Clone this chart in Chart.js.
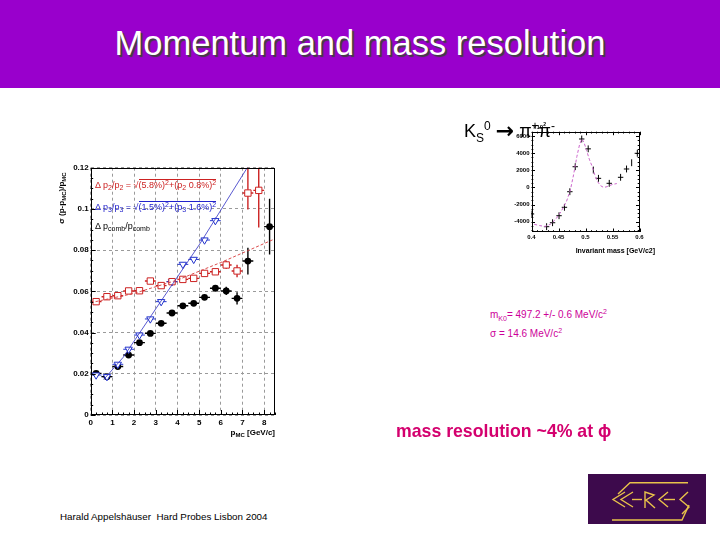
<!DOCTYPE html>
<html><head><meta charset="utf-8">
<script src="https://cdn.jsdelivr.net/npm/chart.js"></script>
<style>
body{margin:0;width:720px;height:540px;position:relative;background:#fff;font-family:"Liberation Sans",Arial,sans-serif;overflow:hidden}
.abs{position:absolute}
#hdr{left:0;top:0;width:720px;height:88px;background:#9900cc}
#title{left:0;top:24px;width:720px;text-align:center;color:#fff;font-size:34.5px;text-shadow:2px 2px 1px #404040}
.leg{font-size:9px;white-space:nowrap;line-height:11px}
.leg sub,.leg sup{font-size:7px}
.leg sub{vertical-align:-2px}
.leg sup{vertical-align:3px}
.rt{border-top:1px solid currentColor;padding-top:0px}
#ytitle{left:62px;top:198px;font-size:8px;font-weight:bold;white-space:nowrap;transform:translate(-50%,-50%) rotate(-90deg)}
#ytitle sub{font-size:6px;vertical-align:-2px}
#xtitle{right:445px;top:428px;font-size:8px;font-weight:bold;white-space:nowrap}
#xtitle sub{font-size:6px;vertical-align:-2px}
#kdecay{left:464px;top:118px;font-size:18px;white-space:nowrap}
#kdecay sub,#kdecay sup{font-size:12px}
#kdecay .arr{font-size:22px;font-weight:bold;font-family:"DejaVu Sans",sans-serif;vertical-align:-1px}
#mtitle{right:65px;top:247px;font-size:7px;font-weight:bold;white-space:nowrap}
#unit{left:533px;top:121px;font-size:6px;font-weight:bold}
#mres{left:490px;top:306px;font-size:10px;color:#cc0099;line-height:12px;white-space:nowrap}
#mres sub,#mres sup{font-size:7px}
#massres{left:396px;top:421px;font-size:17.7px;font-weight:bold;color:#d4006e;white-space:nowrap}
#footer{left:60px;top:511px;font-size:9.8px;white-space:nowrap}
</style></head>
<body>
<div id="hdr" class="abs"></div>
<div id="title" class="abs">Momentum and mass resolution</div>

<canvas id="c1" class="abs" width="245" height="290" style="left:40px;top:155px"></canvas>
<canvas id="c2" class="abs" width="165" height="145" style="left:500px;top:115px"></canvas>

<div class="abs leg" style="left:95px;top:177px;color:#cc2222">&Delta; p<sub>2</sub>/p<sub>2</sub> = &radic;<span class="rt">(5.8%)<sup>2</sup>+(p<sub>2</sub> 0.8%)<sup>2</sup></span></div>
<div class="abs leg" style="left:95px;top:199px;color:#2222cc">&Delta; p<sub>3</sub>/p<sub>3</sub> = &radic;<span class="rt">(1.5%)<sup>2</sup>+(p<sub>3</sub> 1.6%)<sup>2</sup></span></div>
<div class="abs leg" style="left:95px;top:221px;color:#000">&Delta; p<sub>comb</sub>/p<sub>comb</sub></div>
<div id="ytitle" class="abs">&sigma; (p-p<sub>MC</sub>)/p<sub>MC</sub></div>
<div id="xtitle" class="abs">p<sub>MC</sub> [GeV/c]</div>

<div id="kdecay" class="abs">K<sub>S</sub><sup>0</sup> <span class="arr">&rarr;</span> &pi;<sup>+</sup>&pi;<sup>-</sup></div>
<div id="unit" class="abs">&times;10<sup>2</sup></div>
<div id="mtitle" class="abs">Invariant mass [GeV/c2]</div>
<div id="mres" class="abs">m<sub>K0</sub>= 497.2 +/- 0.6 MeV/c<sup>2</sup><br>&sigma; = 14.6 MeV/c<sup>2</sup></div>
<div id="massres" class="abs">mass resolution ~4% at &#x3D5;</div>
<div id="footer" class="abs">Harald Appelsh&auml;user &nbsp;Hard Probes Lisbon 2004</div>

<svg class="abs" style="left:588px;top:474px" width="118" height="50" viewBox="0 0 118 50">
<rect x="0" y="0" width="118" height="50" fill="#3d0a4c"/>
<g fill="none" stroke="#e8c24a" stroke-width="1.4">
<polyline points="30,20 42,8.7 100,8.7"/>
<polyline points="37,18 25,25.5 37,33"/>
<polyline points="45,18 33,25.5 45,33"/>
<line x1="44" y1="25.5" x2="54" y2="25.5"/>
<polyline points="57,34 57,18 66,21 58,26 67,34"/>
<polyline points="80,18 71,25.5 80,33"/>
<line x1="76" y1="25.5" x2="87" y2="25.5"/>
<polyline points="100,18 92,25.5 101,33 94,40"/>
<polyline points="24,46 94,46 101,31"/>
</g>
</svg>

<script>
// ---- momentum resolution data ----
const momBlack = [0.25,0.75,1.25,1.75,2.25,2.75,3.25,3.75,4.25,4.75,5.25,5.75,6.25,6.75,7.25,8.25];
const resBlack = [0.0202,0.0186,0.0235,0.0291,0.0351,0.0396,0.0445,0.0495,0.0530,0.0542,0.0571,0.0615,0.0602,0.0566,0.0747,0.0914];
const errBlack = [0.0005,0.0005,0.0005,0.0005,0.0005,0.0005,0.0005,0.0005,0.0006,0.0008,0.001,0.0012,0.002,0.003,0.0065,0.0135];
const xErrBlack = [0.25,0.25,0.25,0.25,0.25,0.25,0.25,0.25,0.25,0.25,0.25,0.25,0.25,0.25,0.25,0.25];

const momRed = [0.25,0.75,1.25,1.75,2.25,2.75,3.25,3.75,4.25,4.75,5.25,5.75,6.25,6.75,7.25,7.75];
const resRed = [0.0550,0.0574,0.0579,0.0602,0.0603,0.0650,0.0628,0.0647,0.0658,0.0663,0.0687,0.0695,0.0728,0.0699,0.1077,0.1090];
const errRedLo = [0.001,0.0005,0.0005,0.0005,0.0005,0.0005,0.0005,0.0005,0.0006,0.0008,0.001,0.0012,0.002,0.003,0.008,0.018];
const errRedHi = [0.001,0.0005,0.0005,0.0005,0.0005,0.0005,0.0005,0.0005,0.0006,0.0008,0.001,0.0012,0.002,0.003,0.016,0.018];
const xErrRed = [0.25,0.25,0.25,0.25,0.25,0.25,0.25,0.25,0.25,0.25,0.25,0.25,0.25,0.25,0.25,0.25];

const momBlue = [0.25,0.75,1.25,1.75,2.25,2.75,3.25,3.75,4.25,4.75,5.25,5.75];
const resBlue = [0.0194,0.0186,0.0246,0.0319,0.0388,0.0466,0.0550,0.0647,0.0731,0.0755,0.0849,0.0943];
const errBlue = [0.0005,0.0005,0.0005,0.0005,0.0005,0.0005,0.0005,0.0006,0.0008,0.001,0.0012,0.0015];
const xErrBlue = [0.25,0.25,0.25,0.25,0.25,0.25,0.25,0.25,0.25,0.25,0.25,0.25];

const fitRedX = [0, 2, 4, 6, 8.5];
const fitRedY = [0.0545, 0.0590, 0.0655, 0.0740, 0.0855];
const fitBlueX = [0.6, 1.5, 3, 5, 7.25];
const fitBlueY = [0.0172, 0.0280, 0.0515, 0.0825, 0.1205];

const momTicks = [0, 1, 2, 3, 4, 5, 6, 7, 8];
const resTicks = [0, 0.02, 0.04, 0.06, 0.08, 0.1, 0.12];

// ---- K0s invariant mass data ----
const massX = [0.400,0.428,0.439,0.451,0.461,0.471,0.481,0.493,0.505,0.5145,0.524,0.544,0.565,0.576,0.5855,0.596];
const massY = [-3100,-4580,-4120,-3300,-2320,-500,2415,5650,4500,2030,1060,480,1180,2150,2880,3980];
const massXErr = [0.005,0.005,0.005,0.005,0.005,0.005,0.005,0.005,0.005,0,0.005,0.005,0.005,0.005,0,0.005];
const massYErr = [400,400,400,400,400,400,400,400,400,400,400,400,400,400,400,400];
const fitMassX = [0.405,0.415,0.425,0.435,0.445,0.455,0.465,0.472,0.478,0.484,0.489,0.493,0.497,0.502,0.507,0.512,0.517,0.522,0.528,0.533,0.538,0.544,0.550,0.558];
const fitMassY = [-4300,-4450,-4550,-4300,-3700,-2800,-1600,-300,1500,3600,5000,5650,5300,4300,3300,2500,1500,700,200,20,50,200,350,450];
const massXTicks = [0.4, 0.45, 0.5, 0.55, 0.6];
const massYTicks = [-4000, -2000, 0, 2000, 4000, 6000];

const pts = (xs, ys) => xs.map((x, i) => ({x, y: ys[i]}));
const setTicks = list => s => { s.ticks = list.map(v => ({value: v})); };
const FONT = 'Liberation Sans';

const errorBars = {
  id: 'errorBars',
  beforeDatasetsDraw(chart) {
    const {ctx, chartArea: a, scales: {x, y}} = chart;
    ctx.save();
    ctx.beginPath(); ctx.rect(a.left, a.top, a.width, a.height); ctx.clip();
    chart.data.datasets.forEach(ds => {
      const e = ds.errs; if (!e) return;
      ctx.strokeStyle = e.color; ctx.lineWidth = e.width || 1;
      ds.data.forEach((p, j) => {
        const px = x.getPixelForValue(p.x), py = y.getPixelForValue(p.y);
        ctx.beginPath();
        const xe = e.x ? e.x[j] : 0;
        if (xe) { ctx.moveTo(x.getPixelForValue(p.x - xe), py); ctx.lineTo(x.getPixelForValue(p.x + xe), py); }
        const lo = e.lo ? e.lo[j] : 0, hi = e.hi ? e.hi[j] : 0;
        if (lo || hi) { ctx.moveTo(px, y.getPixelForValue(p.y - lo)); ctx.lineTo(px, y.getPixelForValue(p.y + hi)); }
        ctx.stroke();
      });
    });
    ctx.restore();
  }
};

const frameTicks = {
  id: 'frameTicks',
  afterDraw(chart, args, o) {
    const {ctx, chartArea: a, scales: {x, y}} = chart;
    ctx.save();
    ctx.strokeStyle = '#000'; ctx.lineWidth = 1;
    ctx.strokeRect(Math.round(a.left) + 0.5, Math.round(a.top) + 0.5, Math.round(a.width) - 1, Math.round(a.height) - 1);
    const sub = (scale, n) => {
      const t = scale.ticks.map(t => t.value);
      const out = [];
      if (t.length < 2) return out;
      const step = t[1] - t[0];
      if (!(step > 0)) return out;
      for (let k = -n; k < 400; k++) {
        const v = t[0] + k * step / n;
        if (v > scale.max + 1e-9) break;
        if (v >= scale.min - 1e-9) out.push({v, major: ((k % n) + n) % n === 0});
      }
      return out;
    };
    ctx.beginPath();
    sub(x, o.xSub).forEach(({v, major}) => {
      const px = Math.round(x.getPixelForValue(v)) + 0.5, L = major ? o.major : o.minor;
      ctx.moveTo(px, a.bottom); ctx.lineTo(px, a.bottom - L);
      if (o.both) { ctx.moveTo(px, a.top); ctx.lineTo(px, a.top + L); }
    });
    sub(y, o.ySub).forEach(({v, major}) => {
      const py = Math.round(y.getPixelForValue(v)) + 0.5, L = major ? o.major : o.minor;
      ctx.moveTo(a.left, py); ctx.lineTo(a.left + L, py);
      if (o.both) { ctx.moveTo(a.right, py); ctx.lineTo(a.right - L, py); }
    });
    ctx.stroke();
    ctx.restore();
  }
};

if (window.Chart) {
// ---- left chart ----
new Chart(document.getElementById('c1'), {
  type: 'scatter',
  data: {
    datasets: [
      {label: 'fit p2', data: pts(fitRedX, fitRedY), showLine: true, borderColor: 'rgba(215,60,60,0.9)', borderWidth: 1, borderDash: [3, 2], pointRadius: 0},
      {label: 'fit p3', data: pts(fitBlueX, fitBlueY), showLine: true, borderColor: 'rgba(60,60,200,0.85)', borderWidth: 1, pointRadius: 0},
      {label: 'p2', data: pts(momRed, resRed), pointStyle: 'rect', pointRadius: 4.5, borderColor: '#cc2222', backgroundColor: '#fff', borderWidth: 1,
        errs: {x: xErrRed, lo: errRedLo, hi: errRedHi, color: '#cc2222', width: 1.4}},
      {label: 'p3', data: pts(momBlue, resBlue), pointStyle: 'triangle', rotation: 180, pointRadius: 4.2, borderColor: '#2233cc', backgroundColor: '#fff', borderWidth: 1,
        errs: {x: xErrBlue, lo: errBlue, hi: errBlue, color: '#2233cc', width: 1}},
      {label: 'comb', data: pts(momBlack, resBlack), pointStyle: 'circle', pointRadius: 3.4, borderColor: '#000', backgroundColor: '#000', borderWidth: 0,
        errs: {x: xErrBlack, lo: errBlack, hi: errBlack, color: '#000', width: 1.4}}
    ]
  },
  options: {
    responsive: false, animation: false, events: [],
    layout: {padding: {top: 12.7, right: 10, left: 0, bottom: 0}},
    plugins: {legend: {display: false}, tooltip: {enabled: false},
      frameTicks: {xSub: 4, ySub: 4, major: 5, minor: 2.5, both: false}},
    scales: {
      x: {type: 'linear', min: 0, max: 8.5,
        afterBuildTicks: setTicks(momTicks),
        afterFit: s => { s.height = 30; },
        ticks: {padding: 3, color: '#000', font: {family: FONT, size: 8, weight: 'bold'}, maxRotation: 0, autoSkip: false},
        grid: {color: '#9a9a9a', lineWidth: 1, drawTicks: false},
        border: {display: false, dash: [3, 3]}},
      y: {type: 'linear', min: 0, max: 0.12,
        afterBuildTicks: setTicks(resTicks),
        afterFit: s => { s.width = 50.7; },
        ticks: {padding: 2, color: '#000', font: {family: FONT, size: 8, weight: 'bold'}, autoSkip: false,
          callback: v => v === 0 ? '0' : String(+v.toFixed(2))},
        grid: {color: '#9a9a9a', lineWidth: 1, drawTicks: false},
        border: {display: false, dash: [3, 3]}}
    }
  },
  plugins: [errorBars, frameTicks]
});

// ---- inset chart ----
new Chart(document.getElementById('c2'), {
  type: 'scatter',
  data: {
    datasets: [
      {label: 'fit', data: pts(fitMassX, fitMassY), showLine: true, borderColor: '#cc66cc', borderWidth: 1, borderDash: [3, 2], pointRadius: 0},
      {label: 'data', data: pts(massX, massY), pointRadius: 0,
        errs: {x: massXErr, lo: massYErr, hi: massYErr, color: '#000', width: 1}}
    ]
  },
  options: {
    responsive: false, animation: false, events: [],
    layout: {padding: {top: 16.7, right: 25.5, left: 0, bottom: 0}},
    plugins: {legend: {display: false}, tooltip: {enabled: false},
      frameTicks: {xSub: 5, ySub: 4, major: 3.5, minor: 1.8, both: true}},
    scales: {
      x: {type: 'linear', min: 0.4, max: 0.6,
        afterBuildTicks: setTicks(massXTicks),
        afterFit: s => { s.height = 28; },
        ticks: {padding: 2, color: '#000', font: {family: FONT, size: 6, weight: 'bold'}, maxRotation: 0, autoSkip: false,
          callback: v => String(+v.toFixed(2))},
        grid: {display: false, drawTicks: false}, border: {display: false}},
      y: {type: 'linear', min: -5200, max: 6500,
        afterBuildTicks: setTicks(massYTicks),
        afterFit: s => { s.width = 31.5; },
        ticks: {padding: 2, color: '#000', font: {family: FONT, size: 6, weight: 'bold'}, autoSkip: false,
          callback: v => String(v)},
        grid: {display: false, drawTicks: false}, border: {display: false}}
    }
  },
  plugins: [errorBars, frameTicks]
});
}
</script>
</body></html>
